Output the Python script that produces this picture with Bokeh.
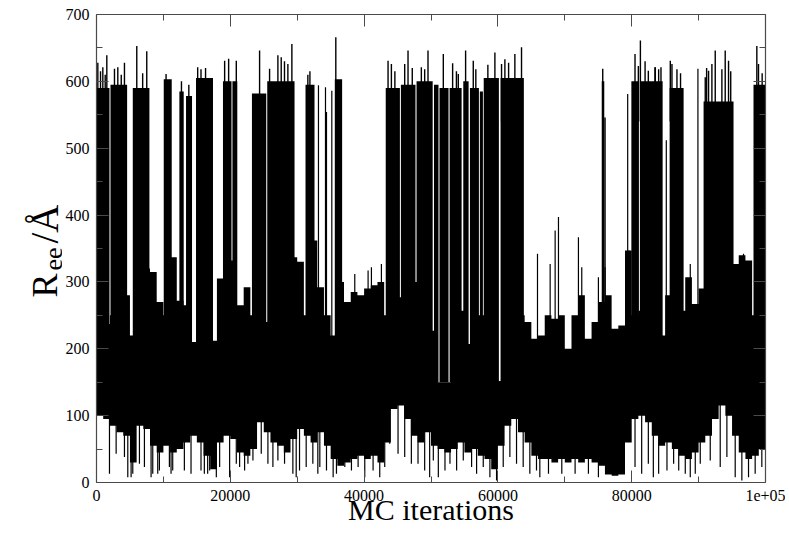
import numpy as np
from bokeh.plotting import figure
from bokeh.layouts import row
from bokeh.models import FixedTicker, LinearAxis, Range1d
from bokeh.core.properties import value
from bokeh.embed import file_html
from bokeh.resources import INLINE

# ---------------- data ----------------
BIN = 1000  # iterations per envelope bin

# closed-state band: upper and lower envelope per 1000 MC iterations
band_top = [250, 237, 250, 250, 280, 220, 250, 320, 315, 270,
            250, 337, 272, 265, 210, 250, 250, 212, 305, 250,
            332, 265, 292, 250, 250, 240, 250, 250, 250, 337,
            330, 250, 362, 292, 250, 220, 300, 270, 285, 280,
            290, 295, 300, 250, 250, 277, 250, 300, 250, 250,
            227, 150, 150, 250, 257, 207, 250, 250, 250, 250,
            152, 250, 250, 250, 240, 215, 220, 250, 245, 250,
            200, 250, 280, 215, 240, 270, 280, 230, 235, 347,
            250, 257, 250, 250, 220, 280, 250, 257, 307, 267,
            290, 250, 250, 250, 250, 327, 340, 332, 250, 250]
band_bottom = [100, 95, 85, 75, 70, 30, 85, 80, 55, 45,
               55, 45, 50, 60, 70, 60, 40, 20, 60, 70,
               65, 45, 40, 50, 90, 75, 60, 55, 45, 65,
               80, 70, 60, 75, 55, 35, 25, 30, 35, 40,
               35, 40, 30, 60, 110, 115, 95, 70, 60, 75,
               55, 50, 45, 50, 60, 45, 50, 40, 35, 20,
               55, 85, 95, 75, 60, 40, 35, 35, 30, 35,
               30, 35, 30, 35, 30, 25, 12, 10, 12, 60,
               95, 100, 90, 70, 55, 60, 50, 40, 35, 45,
               60, 70, 95, 115, 100, 70, 45, 35, 40, 50]

# open-state bursts (start, end in MC iterations; solid top in Angstrom)
burst_start = [0, 2090, 5423, 10050, 12388, 13383, 14875, 18905, 20320, 23234,
               25522, 31244, 35621, 43233, 45500, 47840, 50447, 51270, 52780, 54825,
               55820, 57300, 57880, 60397, 75520, 75900, 79950, 81220, 85670, 90745,
               98207]
burst_end = [1940, 4577, 7910, 11243, 13035, 14278, 17413, 20180, 21045, 25373,
             29602, 32587, 36716, 45350, 47680, 50250, 51120, 52620, 54576, 55621,
             57163, 57760, 60148, 63880, 75900, 76120, 81080, 84625, 87760, 95222,
             100000]
burst_top = [590, 595, 590, 603, 585, 578, 605, 600, 600, 582,
             600, 595, 603, 590, 595, 600, 595, 590, 590, 600,
             590, 585, 605, 605, 600, 546, 600, 600, 590, 570,
             595]

# highest excursions above the bursts
tip_x = [199, 600, 945, 1300, 1542, 2687, 3184, 3700, 4179, 6020, 6900, 7512,
         10398, 12700, 13800, 15124, 15621, 16300, 19154, 19751, 20896, 24378,
         25871, 27114, 27612, 28100, 28607, 29204, 31592, 31900, 35771, 43581,
         44079, 44600, 46069, 46566, 47200, 48557, 49054, 49552, 51840, 53233,
         53800, 54079, 55173, 56318, 56700, 58500, 59551, 60546, 61044, 61600,
         62536, 63531, 75670, 80496, 80994, 81300, 82000, 82486, 83481, 83531,
         84028, 84377, 85769, 86018, 86764, 87300, 90993, 91200, 91491, 91988,
         92486, 93481, 93978, 94476, 94800, 98705, 98954, 99500]
tip_y = [628, 615, 621, 610, 639, 619, 621, 610, 628, 653, 612, 645,
         611, 600, 595, 621, 618, 620, 631, 634, 631, 646,
         619, 639, 636, 630, 626, 656, 610, 615, 666, 631,
         626, 615, 626, 646, 620, 621, 618, 646, 641, 627,
         615, 611, 646, 631, 618, 625, 643, 626, 633, 628,
         641, 651, 619, 641, 623, 661, 630, 616, 621, 621,
         618, 621, 631, 626, 618, 612, 606, 620, 616, 626,
         646, 618, 646, 631, 615, 653, 626, 612]

# isolated upward excursions during closed-state periods
gap_x = [33178, 34229, 34378, 35174, 38606, 40597, 41094, 42587, 65919, 67810,
         68556, 69054, 72038, 72536, 75024, 76019, 79401, 79600, 85172, 88754,
         89899, 95471, 96715]
gap_y = [594, 591, 554, 586, 312, 317, 322, 327, 342, 327,
         377, 397, 367, 322, 307, 322, 581, 347, 512, 327,
         619, 327, 342]

# deepest downward excursions
low_x = [1940, 2935, 4179, 4677, 5174, 5423, 6418, 7164, 8159, 8408, 9155, 9403,
         10895, 11144, 11393, 13134, 14129, 15621, 16120, 16617, 16916, 17911,
         18408, 19900, 20896, 21393, 22139, 22637, 23383, 24627, 25622, 26368,
         27114, 28109, 29353, 29850, 30348, 31343, 32338, 33084, 33383, 34378,
         35373, 35870, 37114, 38109, 39104, 40099, 41343, 42338, 43084, 43830,
         45074, 46069, 47064, 48059, 49054, 49800, 50347, 51094, 52089, 52835,
         53830, 54825, 56069, 56815, 57810, 58805, 59800, 60795, 61790, 62785,
         63780, 64774, 65769, 66268, 67561, 69551, 71541, 73531, 75024, 80496,
         81491, 82486, 83233, 84028, 85272, 86267, 87028, 88008, 88754, 89501,
         90248, 91740, 93232, 94227, 95471, 96466, 97461, 98456, 99451]
low_y = [13, 43, 38, 8, 8, 13, 28, 23, 8, 13, 13, 18,
         23, 13, 18, 18, 13, 18, 13, 13, 18, 8,
         23, 8, 28, 23, 18, 28, 33, 43, 28, 23,
         33, 28, 13, 8, 18, 23, 28, 13, 23, 18,
         8, 13, 23, 18, 23, 8, 18, 8, 23, 58,
         43, 38, 28, 28, 18, 8, 33, 8, 18, 28,
         18, 33, 23, 13, 23, 8, 3, 23, 38, 28,
         23, 13, 18, 8, 13, 13, 13, 13, 8, 23,
         13, 28, 8, 13, 18, 28, 18, 13, 8, 13,
         28, 33, 23, 38, 8, 3, 8, 13, 23]

x_ticks = [0, 20000, 40000, 60000, 80000, 100000]
x_tick_labels = ["0", "20000", "40000", "60000", "80000", "1e+05"]
x_minor = [10000, 30000, 50000, 70000, 90000]
y_ticks = [0, 100, 200, 300, 400, 500, 600, 700]
y_minor = [50, 150, 250, 350, 450, 550, 650]

x_title = "MC iterations"
y_title_parts = ["R", "ee", "/Å"]

# ---------------- figure ----------------
FONT = "Liberation Serif"
AX = "#4a4a4a"
H = 532
PANEL_W = 62
TOP, BOTTOM = 14, 50  # borders above / below the plotting frame

p = figure(width=723, height=H, output_backend="svg", toolbar_location=None,
           x_range=Range1d(0, 100000), y_range=Range1d(0, 700),
           min_border_left=33, min_border_right=20, min_border_top=TOP,
           min_border_bottom=BOTTOM, x_axis_location=None, y_axis_location=None)
p.grid.visible = False
p.outline_line_color = None
p.background_fill_color = "white"

# closed-state band as one stepped area
edges = np.arange(len(band_top) + 1) * BIN
bx = np.repeat(edges, 2)[1:-1]
p.varea(x=bx, y1=np.repeat(band_bottom, 2), y2=np.repeat(band_top, 2),
        fill_color="black")

# open-state bursts
p.quad(left=burst_start, right=burst_end, bottom=150, top=burst_top,
       fill_color="black", line_color=None)

# excursions
p.segment(x0=tip_x, y0=[540] * len(tip_x), x1=tip_x, y1=tip_y,
          line_color="black", line_width=1.4)
p.segment(x0=gap_x, y0=[200] * len(gap_x), x1=gap_x, y1=gap_y,
          line_color="black", line_width=1.2)
p.segment(x0=low_x, y0=[120] * len(low_x), x1=low_x, y1=low_y,
          line_color="black", line_width=1.2)

xt = FixedTicker(ticks=x_ticks, minor_ticks=x_minor)
yt = FixedTicker(ticks=y_ticks, minor_ticks=y_minor)


def style(ax, labels):
    ax.axis_line_color = AX
    ax.axis_line_width = 1.2
    ax.major_tick_line_color = AX
    ax.minor_tick_line_color = AX
    ax.major_tick_in = 12
    ax.major_tick_out = 0
    ax.minor_tick_in = 6
    ax.minor_tick_out = 0
    ax.major_label_text_font = FONT
    if labels:
        ax.major_label_text_color = "black"
        ax.major_label_text_font_size = "16px"
    else:
        ax.major_label_text_color = None
        ax.major_label_text_font_size = "1px"
        ax.major_label_standoff = 0


bottom = LinearAxis(ticker=xt,
                    major_label_overrides={t: s for t, s in zip(x_ticks, x_tick_labels)})
style(bottom, True)
bottom.major_label_standoff = 7
bottom.axis_label = x_title
bottom.axis_label_text_font = FONT
bottom.axis_label_text_font_style = "normal"
bottom.axis_label_text_font_size = "30px"
bottom.axis_label_text_color = "black"
bottom.axis_label_standoff = -11
p.add_layout(bottom, "below")

top = LinearAxis(ticker=xt)
style(top, False)
p.add_layout(top, "above")

left = LinearAxis(ticker=yt)
style(left, True)
left.major_label_standoff = 7
p.add_layout(left, "left")

right = LinearAxis(ticker=yt)
style(right, False)
p.add_layout(right, "right")

# y-axis title panel (R_ee /Å, rotated); its frame is aligned with the main
# frame by the row layout, so its y range spans the frame height in pixels
FRAME_H = H - TOP - BOTTOM
q = figure(width=PANEL_W, height=H, output_backend="svg", toolbar_location=None,
           x_range=Range1d(0, PANEL_W), y_range=Range1d(0, FRAME_H),
           min_border=0, x_axis_location=None, y_axis_location=None)
q.grid.visible = False
q.outline_line_color = None


def title_part(txt, px, py, size):
    # px, py: pixel position of the text start (page coordinates)
    q.text(x=[px], y=[H - BOTTOM - py], text=[txt], angle=np.pi / 2,
           text_font=value(FONT), text_font_size=value(size), text_color="black",
           text_align="left", text_baseline="alphabetic")


title_part(y_title_parts[0], 44, 297, "36px")
title_part(y_title_parts[1], 53, 270, "26px")
title_part(y_title_parts[2], 44, 243, "39px")

layout = row(q, p)
open("out.html", "w").write(file_html(layout, INLINE))
